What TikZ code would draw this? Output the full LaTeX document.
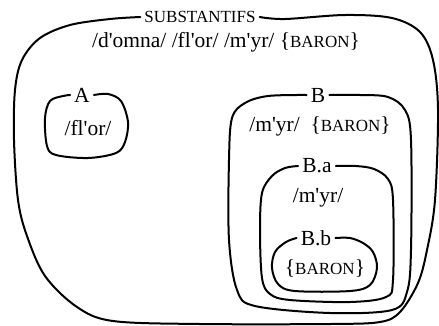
\documentclass[tikz,border=0pt]{standalone}
\usepackage{fontspec}
\setmainfont{Liberation Serif}
\newcommand{\ap}{\textquotesingle}
\newcommand{\petcap}[1]{{\fontsize{17}{18}\selectfont #1}}

\begin{document}
\begin{tikzpicture}[x=1pt, y=-1pt,
      every node/.style={font=\fontsize{21.5}{24}\selectfont, inner sep=4pt},
      blob/.style={line width=2pt, line cap=round, line join=round}]
  \useasboundingbox (0,0) rectangle (439,325);
  \node (subst) at (200,17) {\petcap{SUBSTANTIFS}};
  \node (tous) at (226,42) {/d\ap omna/ /fl\ap or/ /m\ap yr/ \{\petcap{BARON}\}};
  \node (labA) at (82,95) {A};
  \node (flor) at (88,128) {/fl\ap or/};
  \node (labB) at (318,95) {B};
  \node (myrB) at (320,126) {/m\ap yr/\enspace\{\petcap{BARON}\}};
  \node (labBa) at (317,166) {B.a};
  \node (myr) at (318,198) {/m\ap yr/};
  \node (labBb) at (316,238) {B.b};
  \node (baron) at (325,268) {\{\petcap{BARON}\}};
  % contours
  \draw[blob] plot[smooth, tension=0.55] coordinates {(subst.east) (285,19)
    (345,15) (392,18) (420,32) (433,60) (438,110) (435,200) (427,250) (418,283)
    (400,312) (380,322) (330,324) (200,324) (113,321) (77,307) (45,276) (27,236)
    (18,200) (14,140) (15,90) (22,60) (40,38) (70,25) (110,19) (subst.west)};
  \draw[blob] plot[smooth, tension=0.55] coordinates {(labA.east) (108,94) (121,101)
    (128,122) (125,142) (116,153) (88,158) (56,155) (47,146) (45,118) (50,101)
    (63,96) (labA.west)};
  \draw[blob] plot[smooth, tension=0.55] coordinates {(labB.east) (360,95) (388,97)
    (405,110) (411,140) (411,250) (407,292) (392,310) (330,313) (255,306) (237,290)
    (229,240) (229,160) (232,118) (245,103) (268,96) (labB.west)};
  \draw[blob] plot[smooth, tension=0.55] coordinates {(labBa.east) (356,166) (374,169)
    (388,179) (393,200) (393,280) (386,297) (350,302) (290,300) (270,294) (262,278)
    (260,230) (262,193) (272,176) (285,168) (labBa.west)};
  \draw[blob] plot[smooth, tension=0.55] coordinates {(labBb.east) (350,238) (363,243)
    (373,252) (377,268) (370,285) (350,291) (295,291) (278,284) (272,268) (275,252)
    (286,242) (labBb.west)};
\end{tikzpicture}
\end{document}
